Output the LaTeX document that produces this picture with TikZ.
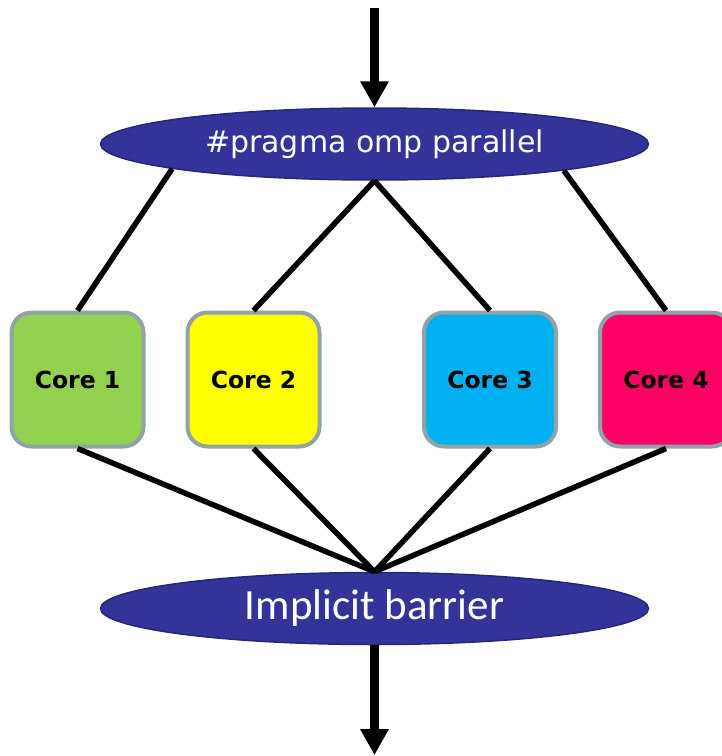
\documentclass[tikz,border=0pt]{standalone}
\usepackage{fontspec}
\setmainfont{DejaVu Sans}
\newfontfamily\calib{Carlito}
\usetikzlibrary{shapes.geometric,arrows.meta}
\definecolor{ovalfill}{HTML}{333399}
\definecolor{ovaldraw}{HTML}{26267A}
\definecolor{coreborder}{HTML}{8FA3A8}
\definecolor{cgreen}{HTML}{92D050}
\definecolor{cyellow}{HTML}{FFFF00}
\definecolor{ccyan}{HTML}{00B0F0}
\definecolor{cpink}{HTML}{FF0066}
\tikzset{
  oval/.style={ellipse, fill=ovalfill, draw=ovaldraw, line width=1.5pt, inner sep=0pt,
    minimum width=548pt, minimum height=72pt, text=white},
  corebox/.style={rectangle, rounded corners=20pt, draw=coreborder, line width=4pt,
    minimum width=132pt, minimum height=134pt, inner sep=0pt,
    font=\fontsize{23.5pt}{27pt}\selectfont\bfseries},
  conn/.style={line width=5.5pt, black},
  flow/.style={line width=9pt, black, -{Triangle[width=27pt,length=26pt]}}
}
\begin{document}
\begin{tikzpicture}[x=1pt,y=-1pt]
\clip (0,0) rectangle (722,756);
\node[oval, font=\fontsize{30pt}{34pt}\selectfont] (top) at (374.5,144) {\#pragma omp parallel};
\node[oval, font=\calib\fontsize{43pt}{48pt}\selectfont] (bot) at (374.5,608.5) {Implicit barrier};
\node[corebox, fill=cgreen] (c1) at (77.5,379.5) {Core 1};
\node[corebox, fill=cyellow] (c2) at (253.5,379.5) {Core 2};
\node[corebox, fill=ccyan] (c3) at (490,379.5) {Core 3};
\node[corebox, fill=cpink] (c4) at (666,379.5) {Core 4};
\coordinate (in) at (374.5,8);
\coordinate (out) at (374.5,755);
\draw[flow] (in) -- (top.north);
\draw[flow] (bot.south) -- (out);
\draw[conn] (top.187.8) -- (c1.north);
\draw[conn] (top.south) -- (c2.north);
\draw[conn] (top.south) -- (c3.north);
\draw[conn] (top.352.4) -- (c4.north);
\foreach \c in {c1,c2,c3,c4} \draw[conn] (\c.south) -- (bot.north);
\end{tikzpicture}
\end{document}
